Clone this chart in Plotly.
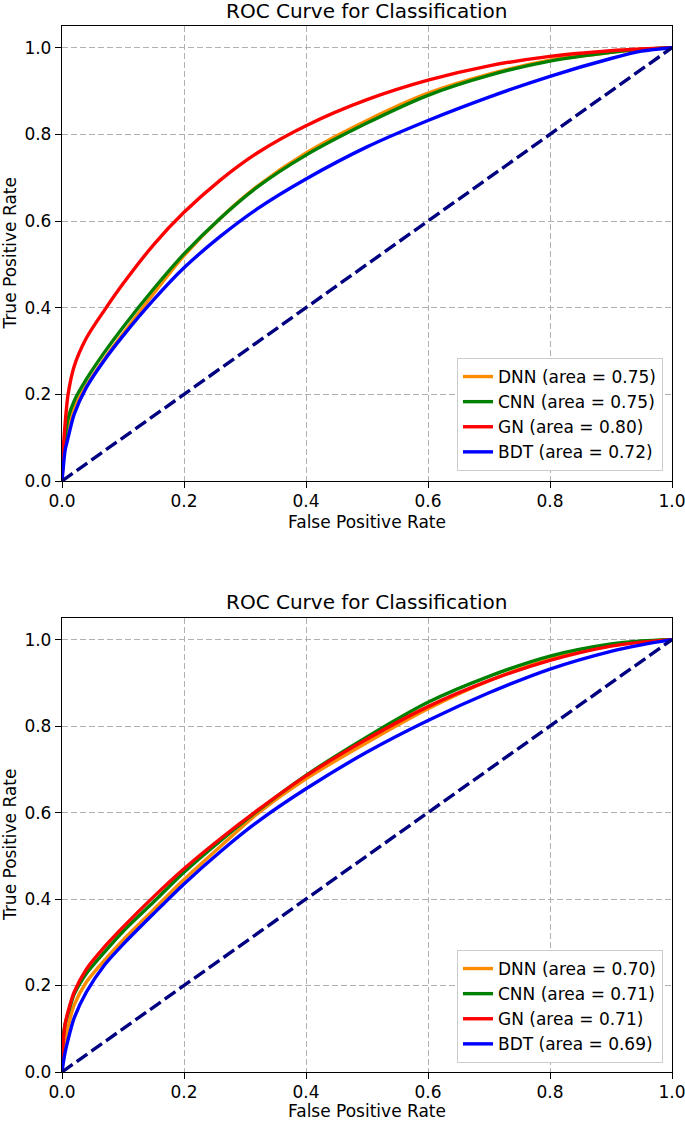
import plotly.graph_objects as go

# ---------------- data ----------------
fpr = [0, 0.002, 0.005, 0.01, 0.02, 0.04, 0.07, 0.1, 0.15, 0.2, 0.26, 0.32,
       0.4, 0.5, 0.6, 0.7, 0.8, 0.9, 0.95, 1.0]

# top panel
top_dnn = [0, 0.05, 0.09, 0.13, 0.17, 0.22, 0.283, 0.34, 0.432, 0.52, 0.607, 0.68,
           0.757, 0.832, 0.895, 0.939, 0.971, 0.989, 0.996, 1.0]
top_cnn = [0, 0.06, 0.10, 0.145, 0.185, 0.235, 0.298, 0.355, 0.443, 0.524, 0.607, 0.678,
           0.752, 0.826, 0.89, 0.936, 0.969, 0.989, 0.996, 1.0]
top_gn = [0, 0.07, 0.13, 0.20, 0.265, 0.33, 0.395, 0.455, 0.545, 0.62, 0.695, 0.757,
          0.82, 0.88, 0.925, 0.958, 0.98, 0.993, 0.997, 1.0]
top_bdt = [0, 0.03, 0.07, 0.10, 0.154, 0.216, 0.28, 0.335, 0.418, 0.492, 0.565, 0.628,
           0.697, 0.771, 0.832, 0.886, 0.934, 0.975, 0.992, 1.0]

# bottom panel
bot_dnn = [0, 0.035, 0.075, 0.105, 0.155, 0.208, 0.259, 0.305, 0.375, 0.445, 0.522, 0.597,
           0.678, 0.762, 0.84, 0.905, 0.955, 0.986, 0.996, 1.0]
bot_cnn = [0, 0.08, 0.11, 0.135, 0.18, 0.228, 0.278, 0.325, 0.393, 0.462, 0.535, 0.603,
           0.686, 0.775, 0.855, 0.915, 0.962, 0.99, 0.997, 1.0]
bot_gn = [0, 0.07, 0.11, 0.14, 0.185, 0.238, 0.29, 0.335, 0.405, 0.47, 0.54, 0.605,
          0.685, 0.77, 0.845, 0.905, 0.952, 0.985, 0.994, 1.0]
bot_bdt = [0, 0.02, 0.045, 0.075, 0.125, 0.185, 0.248, 0.295, 0.366, 0.435, 0.51, 0.578,
           0.655, 0.74, 0.813, 0.877, 0.932, 0.973, 0.988, 1.0]

top_labels = ["DNN (area = 0.75)", "CNN (area = 0.75)", "GN (area = 0.80)", "BDT (area = 0.72)"]
bot_labels = ["DNN (area = 0.70)", "CNN (area = 0.71)", "GN (area = 0.71)", "BDT (area = 0.69)"]
diag = [0, 1]
tick_vals = [0, 0.2, 0.4, 0.6, 0.8, 1.0]
title_text = "ROC Curve for Classification"
xlabel = "False Positive Rate"
ylabel = "True Positive Rate"

colors = ["#ff8c00", "#008000", "#ff0000", "#0000ff"]

# ---------------- layout geometry (pixels) ----------------
W, H = 685, 1121
ML, MR, MT, MB = 62, 13, 26, 49
PH = H - MT - MB
PW = W - ML - MR


def py(p):  # pixel y -> paper y
    return (H - MB - p) / PH


def px(p):  # pixel x -> paper x
    return (p - ML) / PW


FONT = "DejaVu Sans"

fig = go.Figure()

panels = [
    ("x", "y", "legend", [top_dnn, top_cnn, top_gn, top_bdt], top_labels),
    ("x2", "y2", "legend2", [bot_dnn, bot_cnn, bot_gn, bot_bdt], bot_labels),
]
for xa, ya, lg, series, labels in panels:
    for s, lab, c in zip(series, labels, colors):
        fig.add_trace(go.Scatter(x=fpr, y=s, mode="lines", name=lab, xaxis=xa, yaxis=ya,
                                 legend=lg, line=dict(color=c, width=3.4, shape="spline",
                                                      smoothing=0.8)))
    fig.add_trace(go.Scatter(x=diag, y=diag, mode="lines", xaxis=xa, yaxis=ya,
                             showlegend=False, hoverinfo="skip",
                             line=dict(color="#000080", width=3.4, dash="13px,5px")))

axis_common = dict(range=[0, 1], tickvals=tick_vals, tickformat=".1f",
                   showline=True, mirror=True, linecolor="black", linewidth=1.3,
                   ticks="outside", ticklen=6, tickwidth=1.3, tickcolor="black",
                   ticklabeloverflow="allow", automargin=False,
                   showgrid=True, gridcolor="#b0b0b0", gridwidth=1, griddash="6px,3px",
                   zeroline=False, tickfont=dict(family=FONT, size=17, color="black"))
xaxis_common = dict(axis_common, ticklabelstandoff=-2)
yaxis_common = dict(axis_common, range=[0, 1.05])

fig.update_layout(
    width=W, height=H,
    margin=dict(l=ML, r=MR, t=MT, b=MB, autoexpand=False),
    paper_bgcolor="white", plot_bgcolor="white",
    font=dict(family=FONT, size=17, color="black"),
    xaxis=dict(xaxis_common, domain=[0, 1], anchor="y"),
    yaxis=dict(yaxis_common, domain=[py(481), 1.0], anchor="x"),
    xaxis2=dict(xaxis_common, domain=[0, 1], anchor="y2"),
    yaxis2=dict(yaxis_common, domain=[0, py(618)], anchor="x2"),
    legend=dict(x=px(663), y=py(471), xanchor="right", yanchor="bottom",
                bgcolor="white", bordercolor="#cccccc", borderwidth=1,
                font=dict(family=FONT, size=17, color="black")),
    legend2=dict(x=px(663), y=py(1063), xanchor="right", yanchor="bottom",
                 bgcolor="white", bordercolor="#cccccc", borderwidth=1,
                 font=dict(family=FONT, size=17, color="black")),
    showlegend=True,
)

ann = []
for ty, xly, yly in [(11, 522, 253.5), (602, 1111, 845)]:
    ann.append(dict(text=title_text, x=px(367), y=py(ty), xref="paper", yref="paper",
                    xanchor="center", yanchor="middle", showarrow=False,
                    font=dict(family=FONT, size=20, color="black")))
    ann.append(dict(text=xlabel, x=px(367), y=py(xly), xref="paper", yref="paper",
                    xanchor="center", yanchor="middle", showarrow=False,
                    font=dict(family=FONT, size=17, color="black")))
    ann.append(dict(text=ylabel, x=px(10), y=py(yly), xref="paper", yref="paper",
                    xanchor="center", yanchor="middle", showarrow=False, textangle=-90,
                    font=dict(family=FONT, size=17, color="black")))
fig.update_layout(annotations=ann)

fig.write_html(
    "out.html",
    config={"displayModeBar": False},
    post_script="document.body.style.margin='0';document.body.style.padding='0';"
                "document.documentElement.style.overflow='hidden';",
)
